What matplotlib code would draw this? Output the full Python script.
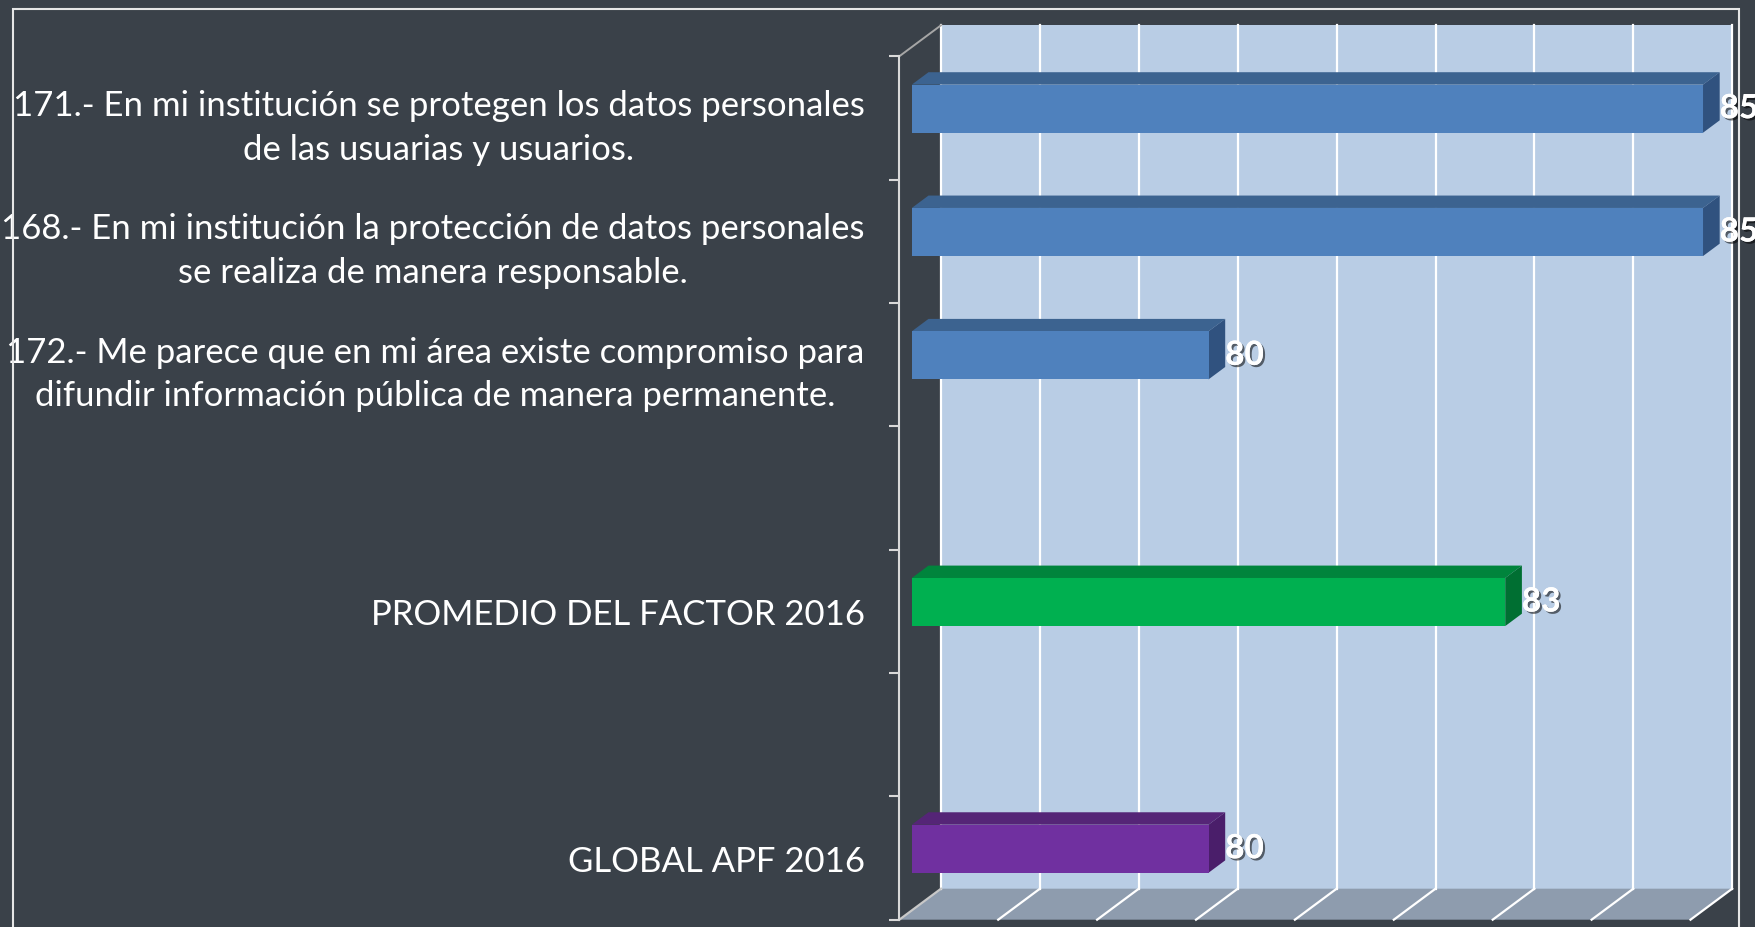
import numpy as np
import matplotlib
matplotlib.use("Agg")
import matplotlib.pyplot as plt
from matplotlib.patches import Polygon, Rectangle
import matplotlib.patheffects as pe

# --- datos ---
categorias = [
    "171.- En mi institución se protegen los datos personales\nde las usuarias y usuarios.",
    "168.- En mi institución la protección de datos personales\nse realiza de manera responsable.",
    "172.- Me parece que en mi área existe compromiso para\ndifundir información pública de manera permanente.",
    "",
    "PROMEDIO DEL FACTOR 2016",
    "",
    "GLOBAL APF 2016",
]
valores = [85, 85, 80, np.nan, 83, np.nan, 80]
grupos = ["pregunta", "pregunta", "pregunta", None, "promedio", None, "global"]

X_MIN, X_MAX = 77, 85

# colores (frente, tapa, costado)
PALETA = {
    "pregunta": ("#4f81bd", "#3c6390", "#30527f"),
    "promedio": ("#00b050", "#00843c", "#006f32"),
    "global": ("#7030a0", "#552577", "#4a1e6a"),
}
FONDO = "#3a4149"
PARED = "#b9cde5"
PISO = "#8e9cae"

# desplazamiento de profundidad (unidades de datos)
PROF_X = 0.4217
PROF_Y = 0.2514
D0, D1 = 0.3, 0.7
MEDIA_ALTURA = 0.195


def proy(x, y, d):
    return (x + d * PROF_X, y - d * PROF_Y)


plt.rcParams["font.family"] = ["Lato", "DejaVu Sans"]

fig = plt.figure(figsize=(17.56, 9.28), dpi=100, facecolor=FONDO)
ax = fig.add_axes([899.3 / 1756, 1 - 920.7 / 928, (1690.5 - 899.3) / 1756, (920.7 - 57.3) / 928])
ax.set_facecolor("none")
ax.set_xlim(X_MIN, X_MAX)
ax.set_ylim(len(categorias) - 0.5, -0.5)

# pared del fondo
y_top, y_bot = -0.5, len(categorias) - 0.5
ax.add_patch(Polygon([proy(X_MIN, y_top, 1), proy(X_MAX, y_top, 1),
                      proy(X_MAX, y_bot, 1), proy(X_MIN, y_bot, 1)],
                     closed=True, fc=PARED, ec="none", clip_on=False, zorder=0))
# piso
ax.add_patch(Polygon([proy(X_MIN, y_bot, 0), proy(X_MAX, y_bot, 0),
                      proy(X_MAX, y_bot, 1), proy(X_MIN, y_bot, 1)],
                     closed=True, fc=PISO, ec="none", clip_on=False, zorder=0))

for g in range(X_MIN, X_MAX + 1):
    (xa, ya), (xb, yb) = proy(g, y_top, 1), proy(g, y_bot, 1)
    ax.plot([xa, xb], [ya, yb], color="white", lw=1.6, clip_on=False, zorder=1)
    (xc, yc) = proy(g, y_bot, 0)
    ax.plot([xb, xc], [yb, yc], color="#c8c8c8" if g == X_MIN else "white",
            lw=1.6, clip_on=False, zorder=1)

(xa, ya), (xb, yb) = proy(X_MIN, y_top, 0), proy(X_MIN, y_top, 1)
ax.plot([xa, xb], [ya, yb], color="#a6a6a6", lw=1.4, clip_on=False, zorder=1)

# barras 3D
sombra = [pe.withSimplePatchShadow(offset=(1.5, -1.5), shadow_rgbFace="black", alpha=0.55),
          pe.Normal()]
for i, (v, grupo) in enumerate(zip(valores, grupos)):
    if grupo is None or np.isnan(v):
        continue
    c_frente, c_tapa, c_lado = PALETA[grupo]
    arriba, abajo = i - MEDIA_ALTURA, i + MEDIA_ALTURA
    tapa = [proy(X_MIN, arriba, D0), proy(v, arriba, D0), proy(v, arriba, D1), proy(X_MIN, arriba, D1)]
    lado = [proy(v, arriba, D0), proy(v, abajo, D0), proy(v, abajo, D1), proy(v, arriba, D1)]
    frente = [proy(X_MIN, arriba, D0), proy(v, arriba, D0), proy(v, abajo, D0), proy(X_MIN, abajo, D0)]
    for poly, col in ((tapa, c_tapa), (lado, c_lado), (frente, c_frente)):
        ax.add_patch(Polygon(poly, closed=True, fc=col, ec="none", clip_on=False, zorder=3))
    xt, yt = proy(v, i, D0)
    ax.text(v + D1 * PROF_X, yt, f"{v:.0f}", ha="left", va="center",
            fontsize=24, fontweight="bold", color="white",
            path_effects=sombra, zorder=5, clip_on=False)

# ejes
for lado_eje in ("top", "right", "bottom"):
    ax.spines[lado_eje].set_visible(False)
ax.spines["left"].set_color("#d9d9d9")
ax.spines["left"].set_linewidth(1.5)
ax.set_xticks([])
ax.set_yticks(np.arange(-0.5, len(categorias)))
ax.set_yticklabels([])
ax.tick_params(axis="y", which="major", length=7, width=1.5, color="#d9d9d9", direction="out")
ax.set_yticks(np.arange(len(categorias)), minor=True)
ax.set_yticklabels(categorias, minor=True)
ax.tick_params(axis="y", which="minor", length=0, pad=25, labelsize=25, labelcolor="white")
for t in ax.get_yticklabels(minor=True):
    t.set_multialignment("center")
    t.set_linespacing(1.45)

# marco exterior
fig.add_artist(Rectangle((13 / 1756, -0.05), (1739 - 13) / 1756, 1.05 - 9.5 / 928,
                         transform=fig.transFigure, fill=False, ec="#e6e6e6", lw=1.5))

fig.savefig("out.png", dpi=100, facecolor=FONDO)
